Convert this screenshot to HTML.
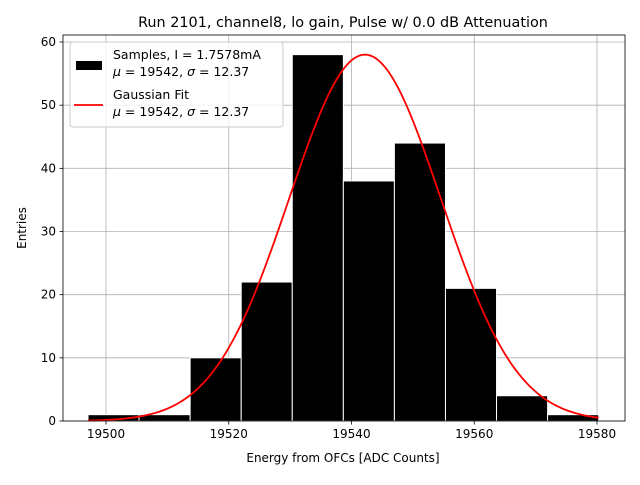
<!DOCTYPE html>
<html><head><meta charset="utf-8"><style>
body{margin:0;background:#fff;}
svg text{font-family:"DejaVu Sans","Liberation Sans",sans-serif;}
</style></head><body>
<svg id="chart" width="640" height="480" xmlns="http://www.w3.org/2000/svg">
<rect width="640" height="480" fill="#fff"/>
<g id="grid"></g><g id="bars"></g><g id="curve"></g><g id="axes"></g>
<text x="343" y="27" font-size="14.4" text-anchor="middle">Run 2101, channel8, lo gain, Pulse w/ 0.0 dB Attenuation</text>
<text x="343" y="462" font-size="12" text-anchor="middle">Energy from OFCs [ADC Counts]</text>
<text transform="translate(26,228) rotate(-90)" font-size="12" text-anchor="middle">Entries</text>
<g>
<rect x="70" y="42" width="213" height="85" rx="3" fill="#fff" fill-opacity="0.8" stroke="#ccc"/>
<rect x="76" y="61" width="26" height="9" fill="#000"/>
<text x="113" y="59" font-size="12.5">Samples, I = 1.7578mA</text>
<text x="113" y="76" font-size="12.5"><tspan font-style="italic">μ</tspan> = 19542, <tspan font-style="italic">σ</tspan> = 12.37</text>
<line x1="74" y1="105" x2="103" y2="105" stroke="red" stroke-width="1.8"/>
<text x="113" y="99" font-size="12.5">Gaussian Fit</text>
<text x="113" y="116" font-size="12.5"><tspan font-style="italic">μ</tspan> = 19542, <tspan font-style="italic">σ</tspan> = 12.37</text>
</g>
</svg>
<script>
const binStart = 19497.07;
const binWidth = 8.32;
const counts = [1, 1, 10, 22, 58, 38, 44, 21, 4, 1];
const xTicks = [19500, 19520, 19540, 19560, 19580];
const yTicks = [0, 10, 20, 30, 40, 50, 60];
const fitAmp = [58];
const fitMu = [19542.2];
const fitSigma = [12.37];

const L=63,R=625,T=35,B=421;
const xs=v=>106+(v-19500)*(597-106)/80;
const ys=v=>421-v*(421-42)/60;
const NS="http://www.w3.org/2000/svg";
function mk(tag,attrs,parent){const e=document.createElementNS(NS,tag);for(const k in attrs)e.setAttribute(k,attrs[k]);document.getElementById(parent).appendChild(e);return e;}

xTicks.forEach(t=>{
  const g=mk('line',{x1:xs(t),x2:xs(t),y1:T,y2:B,stroke:'#b0b0b0','stroke-width':0.8},'grid');
  
  
  const tk=mk('line',{x1:xs(t),x2:xs(t),y1:B,y2:B+3.5,stroke:'#000','stroke-width':0.8},'axes');
  
  
  const tx=mk('text',{x:xs(t),y:B+17,'font-size':12,'text-anchor':'middle'},'axes');
  tx.textContent=t;
  
  
});
yTicks.forEach(t=>{
  const g=mk('line',{x1:L,x2:R,y1:ys(t),y2:ys(t),stroke:'#b0b0b0','stroke-width':0.8},'grid');
  
  
  const tk=mk('line',{x1:L-3.5,x2:L,y1:ys(t),y2:ys(t),stroke:'#000','stroke-width':0.8},'axes');
  
  
  const tx=mk('text',{x:L-7,y:ys(t)+4,'font-size':12,'text-anchor':'end'},'axes');
  tx.textContent=t;
  
  
});
counts.forEach((c,i)=>{
  const x0=xs(binStart+i*binWidth),x1=xs(binStart+(i+1)*binWidth);
  const r=mk('rect',{x:x0,y:ys(c),width:x1-x0,height:ys(0)-ys(c),fill:'#000',stroke:'#fff','stroke-width':1},'bars');
  
  
});
let d='';
const x0=binStart,x1=binStart+counts.length*binWidth;
for(let k=0;k<=300;k++){
  const v=x0+(x1-x0)*k/300;
  const y=fitAmp[0]*Math.exp(-0.5*Math.pow((v-fitMu[0])/fitSigma[0],2));
  d+=(k?'L':'M')+xs(v).toFixed(2)+','+ys(y).toFixed(2);
}
const p=mk('path',{d:d,fill:'none',stroke:'red','stroke-width':1.8},'curve');


const fr=mk('rect',{x:L,y:T,width:R-L,height:B-T,fill:'none',stroke:'#000','stroke-width':0.8},'axes');


</script>
</body></html>
